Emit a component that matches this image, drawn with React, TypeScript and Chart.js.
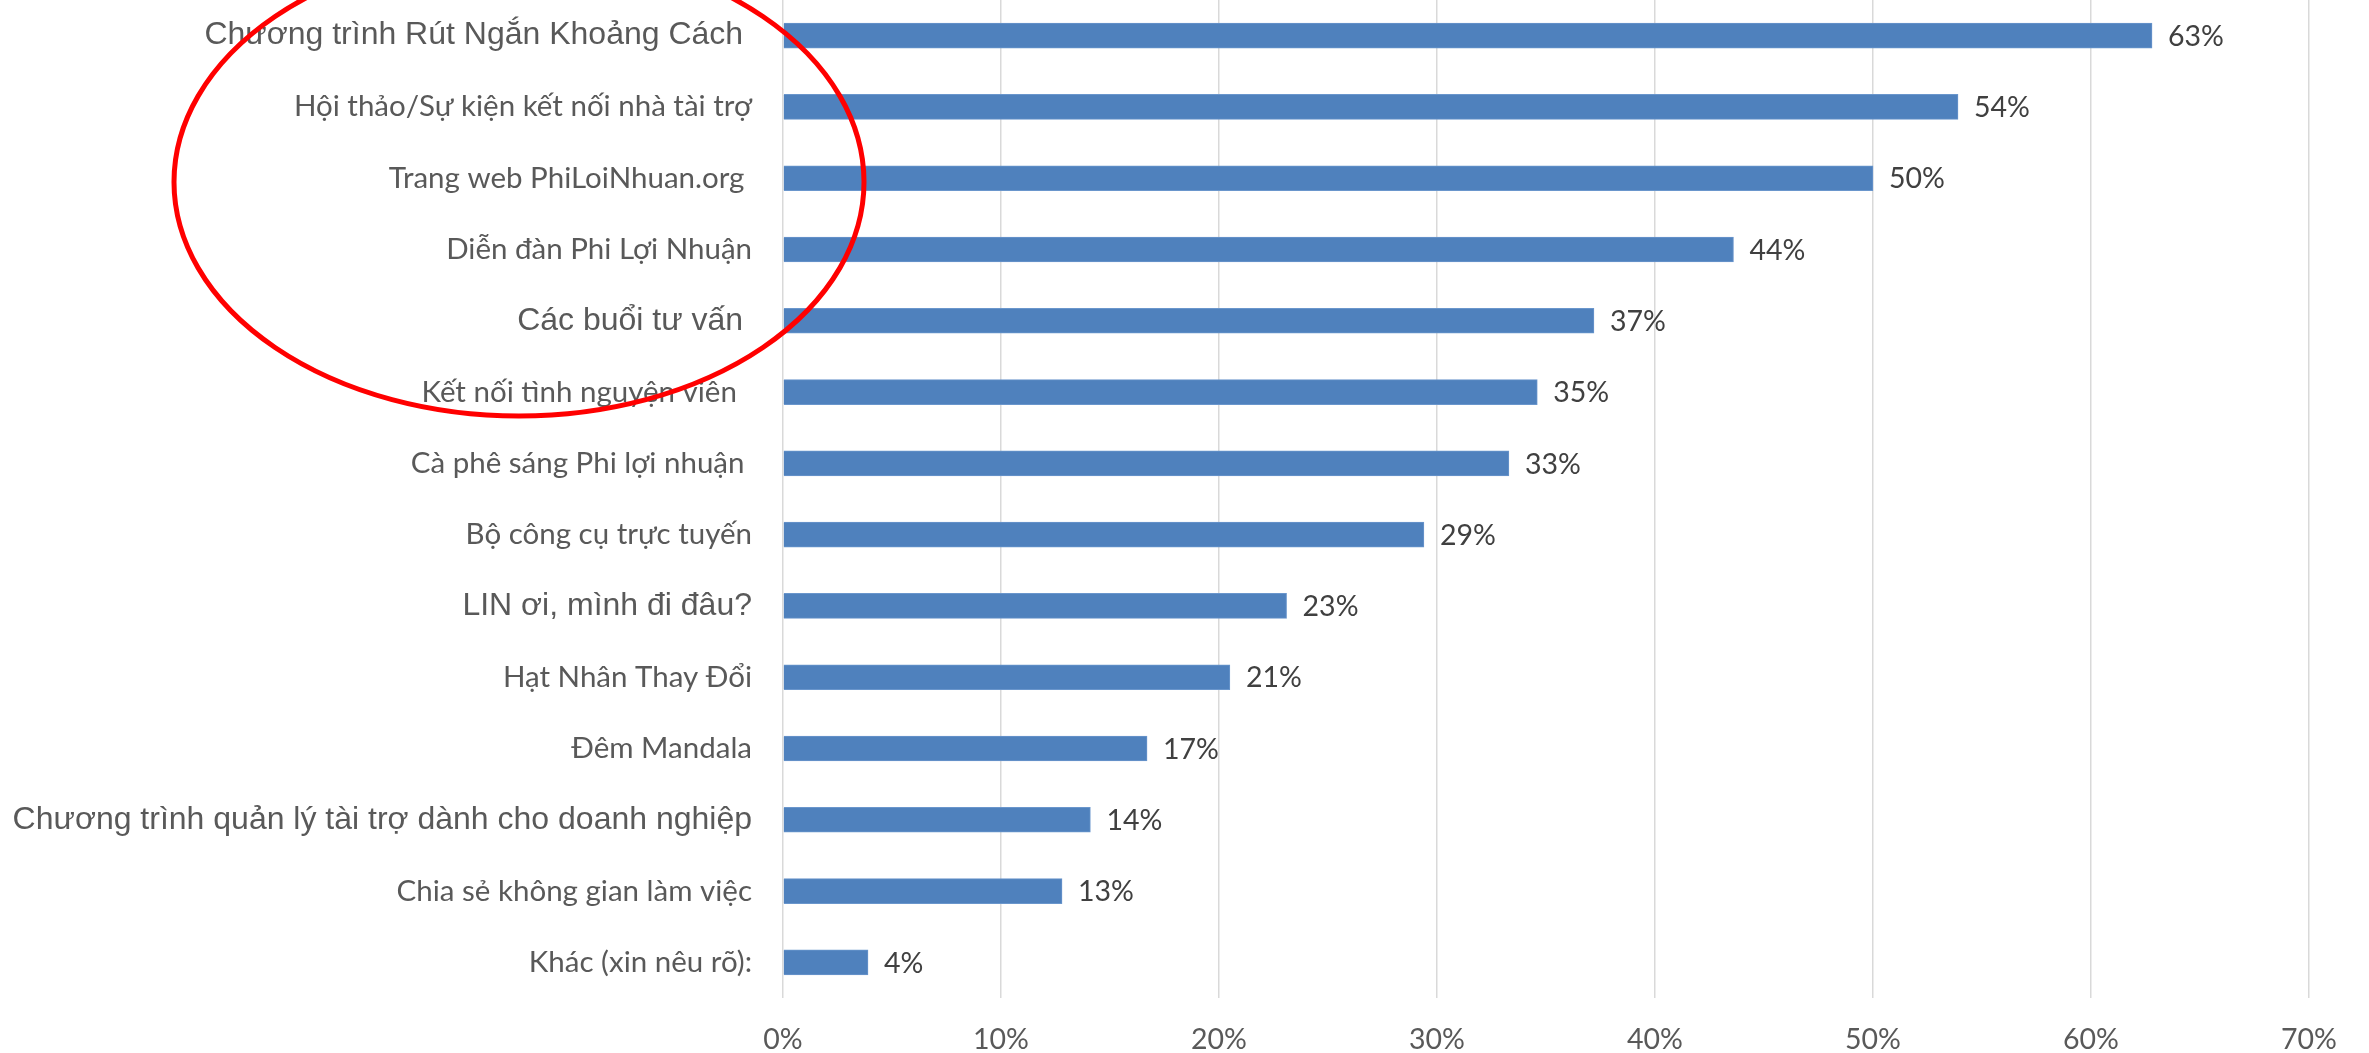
import React, { useEffect, useRef } from "react";
import { Chart, registerables } from "chart.js";

Chart.register(...registerables);

const categories = [
  "Chương trình Rút Ngắn Khoảng Cách ",
  "Hội thảo/Sự kiện kết nối nhà tài trợ",
  "Trang web PhiLoiNhuan.org ",
  "Diễn đàn Phi Lợi Nhuận",
  "Các buổi tư vấn ",
  "Kết nối tình nguyện viên  ",
  "Cà phê sáng Phi lợi nhuận ",
  "Bộ công cụ trực tuyến",
  "LIN ơi, mình đi đâu?",
  "Hạt Nhân Thay Đổi",
  "Đêm Mandala",
  "Chương trình quản lý tài trợ dành cho doanh nghiệp",
  "Chia sẻ không gian làm việc",
  "Khác (xin nêu rõ):",
];

const values = [62.8, 53.9, 50.0, 43.6, 37.2, 34.6, 33.3, 29.4, 23.1, 20.5, 16.7, 14.1, 12.8, 3.9];

const xTicks = [0, 10, 20, 30, 40, 50, 60, 70];

// categories whose labels use the Arial-like face in the original
const arialStyled = new Set([0, 4, 8, 11]);

const W = 2369;
const H = 1053;

export default function App() {
  const ref = useRef<HTMLCanvasElement | null>(null);

  useEffect(() => {
    const canvas = ref.current;
    if (!canvas) return;

    const valueLabels = {
      id: "valueLabels",
      afterDatasetsDraw(chart: any) {
        const ctx = chart.ctx;
        const meta = chart.getDatasetMeta(0);
        ctx.save();
        ctx.font = "28.5px Lato";
        ctx.fillStyle = "#404040";
        ctx.textAlign = "left";
        ctx.textBaseline = "middle";
        meta.data.forEach((bar: any, i: number) => {
          const v = chart.data.datasets[0].data[i] as number;
          ctx.fillText(Math.round(v) + "%", bar.x + 16, bar.y + 1);
        });
        ctx.restore();
      },
    };

    const ellipse = {
      id: "redEllipse",
      afterDraw(chart: any) {
        const ctx = chart.ctx;
        ctx.save();
        ctx.beginPath();
        ctx.ellipse(519, 182, 345, 234, 0, 0, Math.PI * 2);
        ctx.strokeStyle = "#ff0000";
        ctx.lineWidth = 5;
        ctx.stroke();
        ctx.restore();
      },
    };

    const chart = new Chart(canvas, {
      type: "bar",
      data: {
        labels: categories,
        datasets: [
          {
            data: values,
            backgroundColor: "#4f81bd",
            borderColor: "#6a96cc",
            borderWidth: 1,
            barThickness: 25,
          },
        ],
      },
      options: {
        indexAxis: "y",
        responsive: false,
        animation: false,
        devicePixelRatio: 1,
        layout: { padding: { top: 0, right: 60, left: 0, bottom: 0 } },
        plugins: {
          legend: { display: false },
          tooltip: { enabled: false },
        },
        scales: {
          x: {
            type: "linear",
            min: 0,
            max: 70,
            afterBuildTicks(scale: any) {
              scale.ticks = xTicks.map((v) => ({ value: v }));
            },
            afterFit(scale: any) {
              scale.height = 55;
              scale.paddingLeft = 0;
              scale.paddingRight = 0;
            },
            grid: {
              color: "#d9d9d9",
              lineWidth: 1.5,
              drawTicks: false,
            },
            border: { display: false },
            ticks: {
              padding: 25,
              color: "#595959",
              font: { family: "Lato", size: 28.5 },
              callback: (v: any) => v + "%",
            },
          },
          y: {
            type: "category",
            afterFit(scale: any) {
              scale.width = 783;
              scale.paddingTop = 0;
              scale.paddingBottom = 0;
            },
            grid: { display: false, drawTicks: false },
            border: { display: false },
            ticks: {
              padding: 31,
              autoSkip: false,
              color: "#595959",
              font: (c: any) =>
                arialStyled.has(c.index)
                  ? { family: "'Liberation Sans', Arial", size: 32 }
                  : { family: "Lato", size: 29.5 },
            },
          },
        },
      },
      plugins: [valueLabels, ellipse],
    } as any);

    return () => chart.destroy();
  }, []);

  return (
    <div style={{ position: "fixed", left: 0, top: 0, width: W, height: H, background: "#ffffff" }}>
      <canvas ref={ref} width={W} height={H} style={{ display: "block", width: W, height: H }} />
    </div>
  );
}
